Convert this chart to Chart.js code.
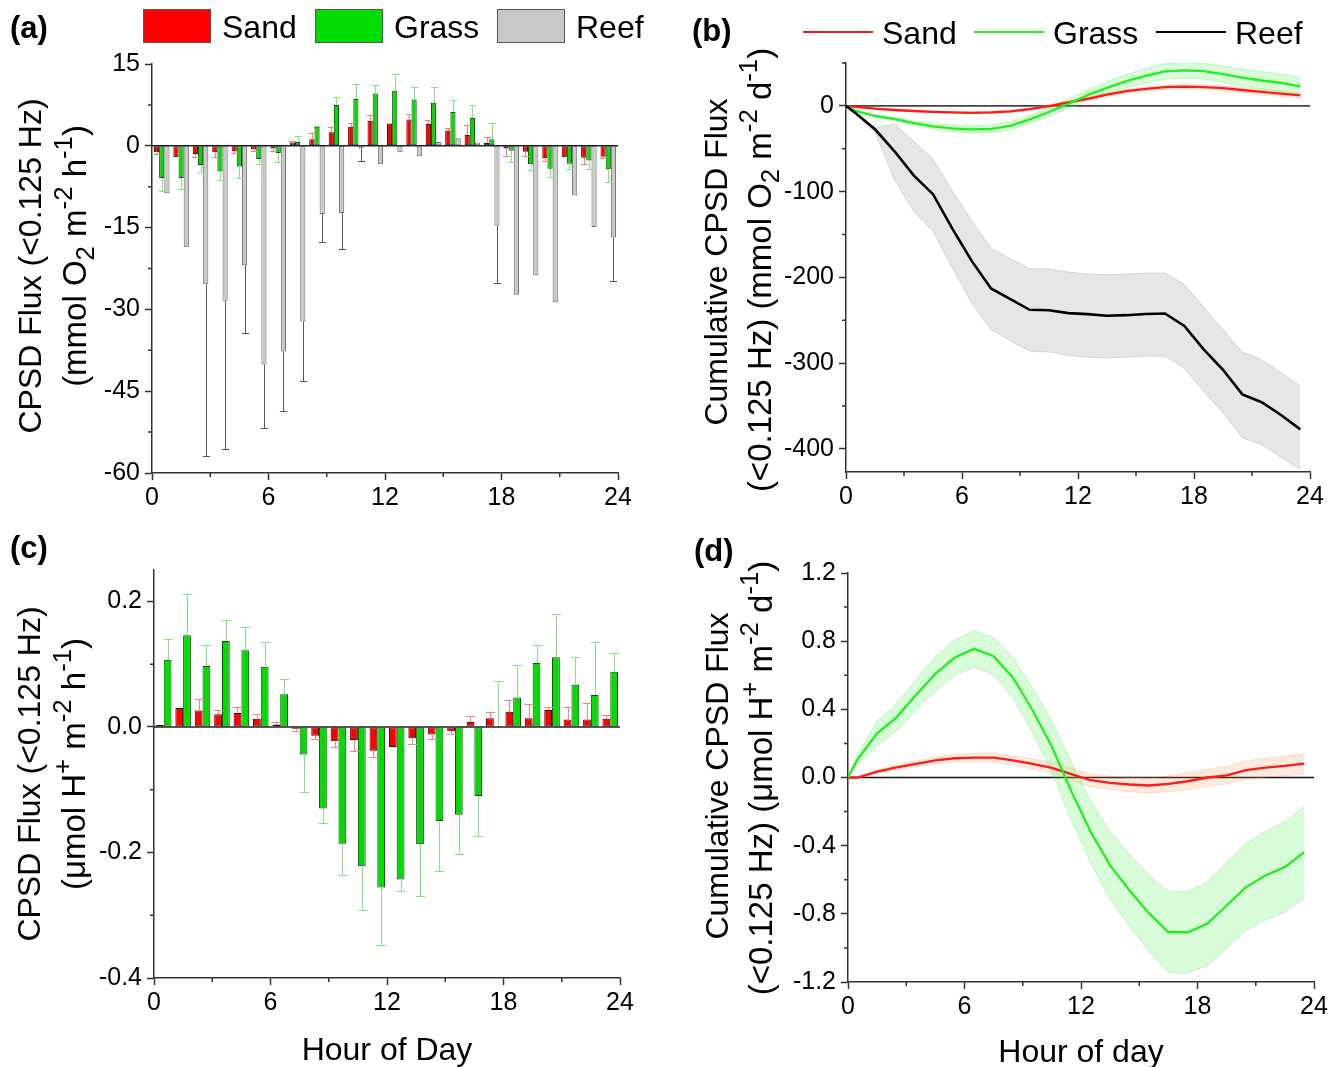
<!DOCTYPE html>
<html>
<head>
<meta charset="utf-8">
<script src="https://cdn.jsdelivr.net/npm/chart.js@4.4.1/dist/chart.umd.min.js"></script>
<style>
  body { margin: 0; background: #fff; }
  #wrap { position: relative; width: 1338px; height: 1067px; }
  #wrap canvas { position: absolute; left: 0; top: 0; }
</style>
</head>
<body>
<div id="wrap">
  <canvas id="chartA" width="1338" height="1067"></canvas>
  <canvas id="chartB" width="1338" height="1067"></canvas>
  <canvas id="chartC" width="1338" height="1067"></canvas>
  <canvas id="chartD" width="1338" height="1067"></canvas>
</div>
<script>
// hour bins (bar centres) and cumulative sample times
const hours = [0.5, 1.5, 2.5, 3.5, 4.5, 5.5, 6.5, 7.5, 8.5, 9.5, 10.5, 11.5,
  12.5, 13.5, 14.5, 15.5, 16.5, 17.5, 18.5, 19.5, 20.5, 21.5, 22.5, 23.5];
const cumHours = [0, 0.5, 1.5, 2.5, 3.5, 4.5, 5.5, 6.5, 7.5, 8.5, 9.5, 10.5, 11.5,
  12.5, 13.5, 14.5, 15.5, 16.5, 17.5, 18.5, 19.5, 20.5, 21.5, 22.5, 23.5];

// (a) O2 flux, mmol O2 m-2 h-1
const sandO2 = [-1.2, -2.1, -1.5, -1.2, -1.0, -0.7, -0.5, 0.6, 1.2, 2.5, 3.5, 4.6,
  4.1, 4.8, 4.0, 2.8, 2.0, 0.5, -0.5, -1.1, -2.3, -2.1, -2.2, -2.0];
const sandO2Err = [0.3, 0, 0.6, 0.9, 0.3, 0.3, 0.4, 0.3, 1.2, 1.0, 0.7, 1.0,
  0, 1.1, 0.8, 0.5, 1.9, 1.1, 1.4, 0.8, 0.5, 0, 1.2, 0.3];
const grassO2 = [-5.9, -5.9, -3.5, -4.7, -3.8, -2.4, -1.3, 0.7, 3.5, 7.5, 8.6, 9.6,
  10.1, 8.5, 7.9, 6.2, 5.1, 1.2, -0.9, -3.4, -4.2, -3.3, -2.7, -4.3];
const grassO2Err = [2.4, 2.1, 1.3, 1.5, 2.1, 1.0, 1.6, 1.1, 0.1, 1.4, 2.8, 1.6,
  3.0, 2.3, 2.8, 2.2, 2.3, 2.9, 2.0, 1.1, 1.5, 1.0, 1.5, 2.4];
const reefO2 = [-8.7, -18.6, -25.4, -28.4, -21.9, -40.1, -37.7, -32.2, -12.5, -12.3, -0.5, -3.4,
  -1.2, -1.9, 0.7, 1.4, 0.6, -14.6, -27.3, -23.8, -28.7, -9.1, -14.9, -16.8];
const reefO2Err = [0, 0, 31.4, 27.2, 12.5, 11.7, 10.9, 11.0, 5.1, 6.6, 2.2, 0,
  0, 0, 0, 0, 0, 10.6, 0, 0, 0, 0, 0, 8.0];

// (b) cumulative O2 flux, mmol O2 m-2 d-1
const sandO2Cum = [0, -1.2, -3.3, -4.8, -6.0, -7.0, -7.7, -8.2, -7.6, -6.4, -3.9, -0.4, 4.2,
  8.3, 13.1, 17.1, 19.9, 21.9, 22.4, 21.9, 20.8, 18.5, 16.4, 14.2, 12.2];
const sandO2CumSE = [0, 0.3, 0.5, 0.7, 0.9, 1.0, 1.1, 1.2, 1.3, 1.4, 1.5, 1.6, 1.8,
  2.0, 2.2, 2.3, 2.5, 2.6, 2.7, 2.8, 2.8, 2.9, 3.0, 3.0, 3.0];
const grassO2Cum = [0, -5.9, -11.8, -15.3, -20.0, -23.8, -26.2, -27.5, -26.8, -23.3, -15.8, -7.2, 2.4,
  12.5, 21.0, 28.9, 35.1, 40.2, 41.4, 40.5, 37.1, 32.9, 29.6, 26.9, 22.6];
const grassO2CumSE = [0, 0.8, 1.2, 1.8, 2.5, 3.2, 3.8, 4.3, 4.6, 4.8, 5.0, 5.2, 5.5,
  6.0, 7.0, 7.8, 8.5, 9.0, 9.0, 9.2, 9.5, 9.8, 10.0, 10.2, 10.5];
const reefO2Cum = [0, -8.7, -27.3, -52.7, -81.1, -103, -143.1, -180.8, -213, -225.5, -237.8, -238.3, -241.7,
  -242.9, -244.8, -244.1, -242.7, -242.1, -256.7, -284, -307.8, -336.5, -345.6, -360.5, -377.3];
const reefO2CumHi = [0, -8, -26, -21, -41, -62, -99, -134, -166, -178, -190, -190, -194,
  -196, -197, -196, -195, -195, -208, -235, -261, -287, -296, -311, -327];
const reefO2CumLo = [0, -9.5, -31, -86, -123, -146, -189, -230, -261, -274, -286, -287, -291,
  -293, -294, -293, -292, -292, -306, -333, -358, -387, -395, -410, -424];

// (c) H+ flux, umol H+ m-2 h-1
const sandH = [0.003, 0.030, 0.026, 0.020, 0.022, 0.013, 0.004, -0.003, -0.014, -0.023, -0.021, -0.038,
  -0.032, -0.018, -0.012, -0.007, 0.008, 0.014, 0.024, 0.014, 0.027, 0.012, 0.012, 0.013];
const sandHErr = [0, 0, 0.018, 0.007, 0.009, 0.007, 0.004, 0.004, 0.005, 0.009, 0.017, 0.010,
  0, 0.010, 0.008, 0.004, 0.009, 0.010, 0.019, 0.022, 0.004, 0.020, 0.026, 0.006];
const grassH = [0.107, 0.146, 0.097, 0.137, 0.122, 0.096, 0.052, -0.044, -0.130, -0.186, -0.222, -0.256,
  -0.243, -0.187, -0.150, -0.140, -0.110, 0.001, 0.047, 0.102, 0.111, 0.067, 0.051, 0.088];
const grassHErr = [0.033, 0.065, 0.033, 0.033, 0.037, 0.039, 0.025, 0.059, 0.023, 0.050, 0.069, 0.092,
  0.019, 0.082, 0.080, 0.062, 0.064, 0.072, 0.052, 0.028, 0.069, 0.044, 0.085, 0.029];

// (d) cumulative H+ flux, umol H+ m-2 d-1
const sandHCum = [0, 0.0, 0.035, 0.06, 0.08, 0.10, 0.113, 0.117, 0.117, 0.10, 0.08, 0.057, 0.02,
  -0.016, -0.031, -0.041, -0.047, -0.037, -0.022, 0.0, 0.013, 0.043, 0.058, 0.068, 0.082];
const sandHCumSE = [0, 0.005, 0.01, 0.015, 0.018, 0.02, 0.022, 0.024, 0.025, 0.027, 0.03, 0.032, 0.035,
  0.038, 0.04, 0.042, 0.045, 0.047, 0.05, 0.05, 0.052, 0.054, 0.056, 0.058, 0.06];
const grassHCum = [0, 0.108, 0.259, 0.353, 0.484, 0.608, 0.704, 0.755, 0.712, 0.586, 0.396, 0.18, -0.08,
  -0.32, -0.516, -0.663, -0.796, -0.908, -0.908, -0.859, -0.751, -0.643, -0.575, -0.526, -0.438];
const grassHCumSE = [0, 0.03, 0.07, 0.08, 0.09, 0.10, 0.105, 0.106, 0.11, 0.12, 0.13, 0.15, 0.17,
  0.18, 0.2, 0.21, 0.225, 0.235, 0.24, 0.245, 0.25, 0.255, 0.26, 0.265, 0.27];

const xTicks = [0, 6, 12, 18, 24];
const xMinorTicks = [3, 9, 15, 21];

const FONT = '"Liberation Sans", Arial, Helvetica, sans-serif';
const AXIS = "#333";
const RED = "#ff0000", GREEN = "#00dc00", GRAY = "#c8c8c8";
const LINE_RED = "#ff1a1a", LINE_GREEN = "#22ee22";

Chart.defaults.font.family = FONT;
Chart.defaults.color = "#000";
Chart.defaults.animation = false;

const Y_W = 80, X_H = 40;

function xy(xs, ys) {
  return xs.map((x, i) => ({ x: x, y: ys[i] }));
}
function shift(ys, se, sign) {
  return ys.map((v, i) => v + sign * se[i]);
}

// plot rectangle on the page -> layout padding
function pad(l, r, t, b) {
  return { left: l - Y_W, right: 1338 - r, top: t, bottom: 1067 - b - X_H };
}

function fmt(dec) {
  return v => (Math.abs(v) < 1e-9 ? (0).toFixed(dec) : Number(v).toFixed(dec));
}

function scales(yMin, yMax, yStep, dec) {
  return {
    x: {
      type: "linear", min: 0, max: 24, offset: false,
      afterBuildTicks: s => { s.ticks = xTicks.map(v => ({ value: v })); },
      afterFit: s => { s.height = X_H; },
      grid: { drawOnChartArea: false, offset: false, tickLength: 7, tickColor: AXIS, tickWidth: 1.5 },
      border: { color: AXIS, width: 1.5 },
      ticks: { font: { size: 25 }, padding: 3, maxRotation: 0, color: "#000" }
    },
    y: {
      type: "linear", min: yMin, max: yMax,
      afterFit: s => { s.width = Y_W; },
      grid: { drawOnChartArea: false, tickLength: 7, tickColor: AXIS, tickWidth: 1.5 },
      border: { color: AXIS, width: 1.5 },
      ticks: { stepSize: yStep, includeBounds: false, font: { size: 25 }, padding: 5, color: "#000", callback: fmt(dec) }
    }
  };
}

// text with sub/superscripts, rotated to read bottom-to-top
function drawRich(ctx, parts, cx, cy, size) {
  const small = size * 0.78;
  ctx.save();
  ctx.translate(cx, cy);
  ctx.rotate(-Math.PI / 2);
  let w = 0;
  parts.forEach(p => {
    ctx.font = (p[1] ? small : size) + "px " + FONT;
    w += ctx.measureText(p[0]).width;
  });
  let x = -w / 2;
  ctx.textAlign = "left";
  ctx.textBaseline = "alphabetic";
  ctx.fillStyle = "#000";
  parts.forEach(p => {
    ctx.font = (p[1] ? small : size) + "px " + FONT;
    const dy = p[1] === 1 ? -size * 0.42 : p[1] === -1 ? size * 0.24 : 0;
    ctx.fillText(p[0], x, size * 0.358 + dy);
    x += ctx.measureText(p[0]).width;
  });
  ctx.restore();
}

function boxLegend(ctx, items, y) {
  ctx.font = "32px " + FONT;
  ctx.textBaseline = "alphabetic";
  ctx.textAlign = "left";
  items.forEach(it => {
    ctx.fillStyle = it.color;
    ctx.fillRect(it.x, y - 17, 68, 34);
    ctx.strokeStyle = "#555";
    ctx.lineWidth = 1;
    ctx.strokeRect(it.x + 0.5, y - 16.5, 67, 33);
    ctx.fillStyle = "#000";
    ctx.fillText(it.label, it.x + 79, y + 11.5);
  });
}

function lineLegend(ctx, items, y) {
  ctx.font = "32px " + FONT;
  ctx.textBaseline = "alphabetic";
  ctx.textAlign = "left";
  items.forEach(it => {
    ctx.strokeStyle = it.color;
    ctx.lineWidth = 2.2;
    ctx.beginPath();
    ctx.moveTo(it.x, y);
    ctx.lineTo(it.x + 70, y);
    ctx.stroke();
    ctx.fillStyle = "#000";
    ctx.fillText(it.label, it.x + 79, y + 11.5);
  });
}

function zeroLine(chart, color, width) {
  const ctx = chart.ctx, a = chart.chartArea;
  const y = chart.scales.y.getPixelForValue(0);
  ctx.save();
  ctx.strokeStyle = color;
  ctx.lineWidth = width;
  ctx.beginPath();
  ctx.moveTo(a.left, y);
  ctx.lineTo(a.right, y);
  ctx.stroke();
  ctx.restore();
}

// minor ticks, panel letter, axis titles, legend, zero line
function decor(cfg) {
  return {
    id: "decor",
    beforeDatasetsDraw(chart) {
      if (cfg.zeroUnder) zeroLine(chart, cfg.zeroColor, cfg.zeroWidth);
    },
    afterDatasetsDraw(chart) {
      if (!cfg.zeroUnder) zeroLine(chart, cfg.zeroColor, cfg.zeroWidth);
    },
    afterDraw(chart) {
      const ctx = chart.ctx, a = chart.chartArea;
      const xs = chart.scales.x, ys = chart.scales.y;
      ctx.save();
      ctx.strokeStyle = AXIS;
      ctx.lineWidth = 1.5;
      ctx.beginPath();
      xMinorTicks.forEach(v => {
        const p = xs.getPixelForValue(v);
        ctx.moveTo(p, a.bottom);
        ctx.lineTo(p, a.bottom + 4);
      });
      cfg.yMinor.forEach(v => {
        const p = ys.getPixelForValue(v);
        ctx.moveTo(a.left, p);
        ctx.lineTo(a.left - 4, p);
      });
      ctx.stroke();

      ctx.fillStyle = "#000";
      ctx.font = "bold 31px " + FONT;
      ctx.textAlign = "left";
      ctx.textBaseline = "alphabetic";
      ctx.fillText(cfg.letter[0], cfg.letter[1], cfg.letter[2]);

      // each title line: [parts, x, y, size]
      cfg.yTitle.forEach(t => drawRich(ctx, t[0], t[1], t[2], t[3]));

      if (cfg.xTitle) {
        ctx.font = "32px " + FONT;
        ctx.textAlign = "center";
        ctx.fillStyle = "#000";
        ctx.fillText(cfg.xTitle[0], cfg.xTitle[1], cfg.xTitle[2]);
      }
      if (cfg.legend) cfg.legend(ctx);
      ctx.restore();
    }
  };
}

// one-sided error bars from the end of each bar
const errorBars = {
  id: "errorBars",
  afterDatasetsDraw(chart) {
    const ctx = chart.ctx, ys = chart.scales.y;
    chart.data.datasets.forEach((ds, di) => {
      if (!ds.errors) return;
      const meta = chart.getDatasetMeta(di);
      ctx.save();
      ctx.strokeStyle = ds.errColor;
      ctx.lineWidth = 1;
      ctx.beginPath();
      meta.data.forEach((bar, i) => {
        const e = ds.errors[i];
        if (!e) return;
        const v = ds.data[i].y;
        const end = ys.getPixelForValue(v < 0 ? v - e : v + e);
        const half = bar.width / 2 + 1;
        const x = Math.round(bar.x) + 0.5;
        ctx.moveTo(x, bar.y);
        ctx.lineTo(x, Math.round(end) + 0.5);
        ctx.moveTo(x - half, Math.round(end) + 0.5);
        ctx.lineTo(x + half, Math.round(end) + 0.5);
      });
      ctx.stroke();
      ctx.restore();
    });
  }
};

function barSet(label, vals, errs, fill, border, errColor) {
  return {
    label: label, data: xy(hours, vals), errors: errs, errColor: errColor,
    backgroundColor: fill, borderColor: border, borderWidth: 1, borderSkipped: false,
    categoryPercentage: 0.8, barPercentage: 1.0
  };
}

function band(vals, color, edge, fillTo) {
  return {
    data: xy(cumHours, vals), fill: fillTo, backgroundColor: color,
    borderColor: edge, borderWidth: 1, pointRadius: 0, tension: 0, order: 5
  };
}
function meanLine(vals, color, width) {
  return {
    data: xy(cumHours, vals), fill: false, borderColor: color, borderWidth: width,
    pointRadius: 0, tension: 0, order: 0
  };
}

const O2_A = [["(mmol O", 0], ["2", -1], [" m", 0], ["-2", 1], [" h", 0], ["-1", 1], [")", 0]];
const O2_B = [["(<0.125 Hz) (mmol O", 0], ["2", -1], [" m", 0], ["-2", 1], [" d", 0], ["-1", 1], [")", 0]];
const H_C = [["(\u03bcmol H", 0], ["+", 1], [" m", 0], ["-2", 1], [" h", 0], ["-1", 1], [")", 0]];
const H_D = [["(<0.125 Hz) (\u03bcmol H", 0], ["+", 1], [" m", 0], ["-2", 1], [" d", 0], ["-1", 1], [")", 0]];

// (a)
new Chart(document.getElementById("chartA"), {
  type: "bar",
  data: {
    datasets: [
      barSet("Sand", sandO2, sandO2Err, RED, "#3a0000", "#ff7a7a"),
      barSet("Grass", grassO2, grassO2Err, GREEN, "#1c3a1c", "#7ee87e"),
      barSet("Reef", reefO2, reefO2Err, GRAY, "#6e6e6e", "#555")
    ]
  },
  options: {
    responsive: false,
    layout: { padding: pad(152, 618, 64, 473) },
    plugins: { legend: { display: false }, tooltip: { enabled: false } },
    scales: scales(-60, 15, 15, 0)
  },
  plugins: [errorBars, decor({
    letter: ["(a)", 10, 38],
    yMinor: [7.5, -7.5, -22.5, -37.5, -52.5],
    yTitle: [[[["CPSD Flux (<0.125 Hz)", 0]], 30, 266, 32], [O2_A, 74, 256, 33]],
    zeroColor: "#222", zeroWidth: 1.5,
    legend: ctx => boxLegend(ctx, [
      { label: "Sand", color: RED, x: 143 },
      { label: "Grass", color: GREEN, x: 315 },
      { label: "Reef", color: GRAY, x: 497 }
    ], 26)
  })]
});

// (b)
new Chart(document.getElementById("chartB"), {
  type: "line",
  data: {
    datasets: [
      band(reefO2CumLo, "#e6e6e6", "#d6d6d6", false),
      band(reefO2CumHi, "#e6e6e6", "#d6d6d6", "-1"),
      band(shift(grassO2Cum, grassO2CumSE, -1), "rgba(60,240,60,0.2)", "rgba(60,220,60,0.25)", false),
      band(shift(grassO2Cum, grassO2CumSE, 1), "rgba(60,240,60,0.2)", "rgba(60,220,60,0.25)", "-1"),
      band(shift(sandO2Cum, sandO2CumSE, -1), "rgba(255,150,90,0.2)", "rgba(255,150,90,0.25)", false),
      band(shift(sandO2Cum, sandO2CumSE, 1), "rgba(255,150,90,0.2)", "rgba(255,150,90,0.25)", "-1"),
      meanLine(reefO2Cum, "#000", 2.6),
      meanLine(grassO2Cum, LINE_GREEN, 2.3),
      meanLine(sandO2Cum, LINE_RED, 2.3)
    ]
  },
  options: {
    responsive: false,
    layout: { padding: pad(846, 1310, 63, 472) },
    plugins: { legend: { display: false }, tooltip: { enabled: false } },
    scales: scales(-427, 50, 100, 0)
  },
  plugins: [decor({
    letter: ["(b)", 692, 41],
    yMinor: [50, -50, -150, -250, -350],
    yTitle: [[[["Cumulative CPSD Flux", 0]], 716, 262, 32], [O2_B, 759, 270, 33]],
    zeroUnder: true, zeroColor: "#444", zeroWidth: 1.8,
    legend: ctx => lineLegend(ctx, [
      { label: "Sand", color: LINE_RED, x: 803 },
      { label: "Grass", color: LINE_GREEN, x: 974 },
      { label: "Reef", color: "#000", x: 1156 }
    ], 32)
  })]
});

// (c)
new Chart(document.getElementById("chartC"), {
  type: "bar",
  data: {
    datasets: [
      barSet("Sand", sandH, sandHErr, RED, "#3a0000", "#ff8080"),
      barSet("Grass", grassH, grassHErr, GREEN, "#1c3a1c", "#80e880")
    ]
  },
  options: {
    responsive: false,
    layout: { padding: pad(154, 620, 570, 978) },
    plugins: { legend: { display: false }, tooltip: { enabled: false } },
    scales: scales(-0.4, 0.25, 0.2, 1)
  },
  plugins: [errorBars, decor({
    letter: ["(c)", 10, 558],
    yMinor: [0.1, -0.1, -0.3],
    yTitle: [[[["CPSD Flux (<0.125 Hz)", 0]], 29, 774, 32], [H_C, 73, 764, 33]],
    zeroColor: "#222", zeroWidth: 1.5,
    xTitle: ["Hour of Day", 387, 1060]
  })]
});

// (d)
new Chart(document.getElementById("chartD"), {
  type: "line",
  data: {
    datasets: [
      band(shift(grassHCum, grassHCumSE, -1), "rgba(60,240,60,0.2)", "rgba(60,220,60,0.25)", false),
      band(shift(grassHCum, grassHCumSE, 1), "rgba(60,240,60,0.2)", "rgba(60,220,60,0.25)", "-1"),
      band(shift(sandHCum, sandHCumSE, -1), "rgba(255,150,90,0.2)", "rgba(255,150,90,0.25)", false),
      band(shift(sandHCum, sandHCumSE, 1), "rgba(255,150,90,0.2)", "rgba(255,150,90,0.25)", "-1"),
      meanLine(grassHCum, LINE_GREEN, 2.3),
      meanLine(sandHCum, LINE_RED, 2.3)
    ]
  },
  options: {
    responsive: false,
    layout: { padding: pad(848, 1314, 573, 982) },
    plugins: { legend: { display: false }, tooltip: { enabled: false } },
    scales: scales(-1.2, 1.2, 0.4, 1)
  },
  plugins: [decor({
    letter: ["(d)", 694, 561],
    yMinor: [1.0, 0.6, 0.2, -0.2, -0.6, -1.0],
    yTitle: [[[["Cumulative CPSD Flux", 0]], 717, 776, 32], [H_D, 760, 778, 33]],
    zeroUnder: true, zeroColor: "#111", zeroWidth: 1.5,
    xTitle: ["Hour of day", 1081, 1062]
  })]
});
</script>
</body>
</html>
